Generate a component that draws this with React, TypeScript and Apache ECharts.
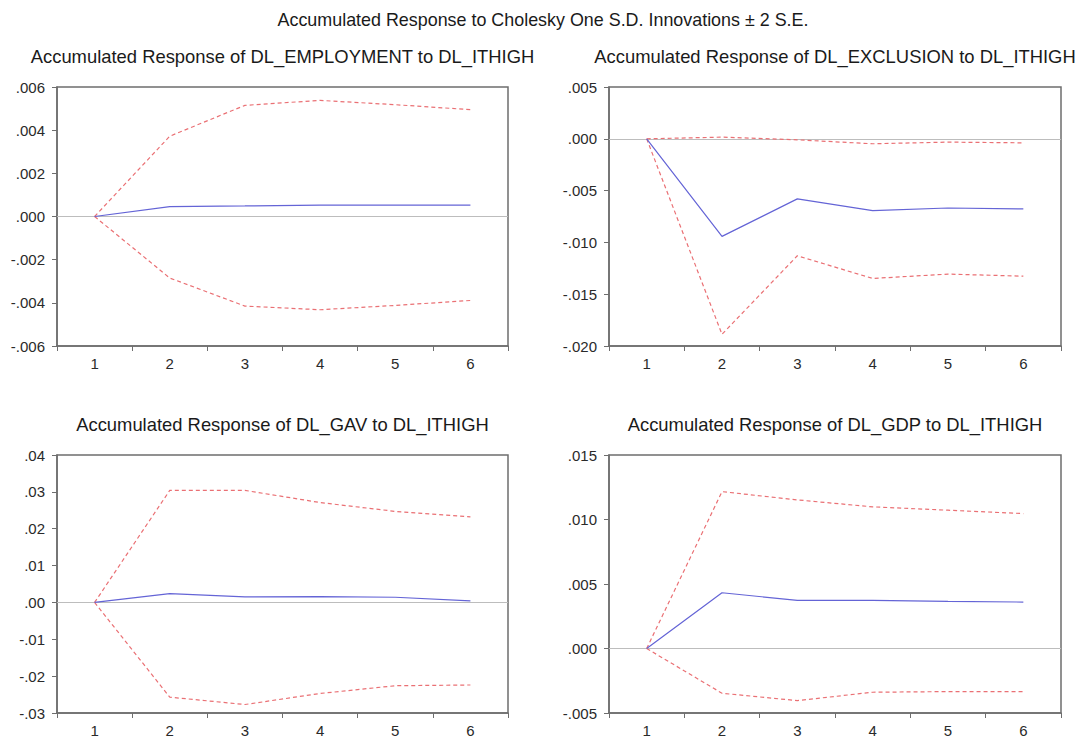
import React, { useEffect, useRef } from "react";
import * as echarts from "echarts";

const periods = ["1", "2", "3", "4", "5", "6"];

const mainTitle = "Accumulated Response to Cholesky One S.D. Innovations ± 2 S.E.";
const panelTitles = [
  "Accumulated Response of DL_EMPLOYMENT to DL_ITHIGH",
  "Accumulated Response of DL_EXCLUSION to DL_ITHIGH",
  "Accumulated Response of DL_GAV to DL_ITHIGH",
  "Accumulated Response of DL_GDP to DL_ITHIGH",
];

// DL_EMPLOYMENT
const empResp = [0, 0.00046, 0.00049, 0.00053, 0.00053, 0.00053];
const empUpper = [0, 0.00372, 0.00515, 0.00538, 0.00518, 0.00495];
const empLower = [0, -0.00285, -0.00415, -0.00432, -0.00412, -0.00389];

// DL_EXCLUSION
const excResp = [0, -0.00942, -0.0058, -0.00694, -0.00668, -0.00677];
const excUpper = [0, 0.00016, -0.0001, -0.00048, -0.00032, -0.00039];
const excLower = [0, -0.01887, -0.01129, -0.01348, -0.01306, -0.01326];

// DL_GAV
const gavResp = [0, 0.0024, 0.0015, 0.0016, 0.0014, 0.0004];
const gavUpper = [0, 0.0304, 0.0304, 0.0271, 0.0247, 0.0232];
const gavLower = [0, -0.0257, -0.0277, -0.0247, -0.0226, -0.0224];

// DL_GDP
const gdpResp = [0, 0.00432, 0.00373, 0.00373, 0.00365, 0.0036];
const gdpUpper = [0, 0.01216, 0.01152, 0.01098, 0.01072, 0.01046];
const gdpLower = [0, -0.00347, -0.00404, -0.00339, -0.00334, -0.00334];

// y-axis ranges: [min, max, interval, decimals]
const yEmp = [-0.006, 0.006, 0.002, 3];
const yExc = [-0.02, 0.005, 0.005, 3];
const yGav = [-0.03, 0.04, 0.01, 2];
const yGdp = [-0.005, 0.015, 0.005, 3];

const panels = [
  { resp: empResp, upper: empUpper, lower: empLower, y: yEmp },
  { resp: excResp, upper: excUpper, lower: excLower, y: yExc },
  { resp: gavResp, upper: gavUpper, lower: gavLower, y: yGav },
  { resp: gdpResp, upper: gdpUpper, lower: gdpLower, y: yGdp },
];

const grids = [
  { left: 57, top: 87, width: 451, height: 259 },
  { left: 609, top: 87, width: 452, height: 259 },
  { left: 57, top: 455, width: 451, height: 258 },
  { left: 609, top: 455, width: 452, height: 258 },
];

const FONT = "'Liberation Sans', Arial, sans-serif";
const AXIS_COLOR = "#6e6e6e";
const BLUE = "#6464d6";
const RED = "#ea7074";

function fmt(v: number, d: number) {
  const s = Math.abs(v).toFixed(d).replace(/^0/, "");
  return (v < -1e-12 ? "-" : "") + s;
}

export default function App() {
  const ref = useRef<HTMLDivElement>(null);
  useEffect(() => {
    if (!ref.current) return;
    const chart = echarts.init(ref.current, null, { renderer: "svg" });
    const xAxis: any[] = [];
    const yAxis: any[] = [];
    const series: any[] = [];
    panels.forEach((p, i) => {
      xAxis.push({
        type: "category",
        gridIndex: i,
        data: periods,
        boundaryGap: true,
        axisLine: { onZero: false, lineStyle: { color: AXIS_COLOR, width: 1.5 } },
        axisTick: { show: true, length: 5, inside: false, lineStyle: { color: AXIS_COLOR } },
        axisLabel: { color: "#2a2a2a", fontSize: 15, fontFamily: FONT, margin: 10 },
        splitLine: { show: false },
      });
      const [mn, mx, iv, d] = p.y as number[];
      yAxis.push({
        type: "value",
        gridIndex: i,
        min: mn,
        max: mx,
        interval: iv,
        axisLine: { show: true, onZero: false, lineStyle: { color: AXIS_COLOR, width: 1.5 } },
        axisTick: { show: true, length: 5, lineStyle: { color: AXIS_COLOR } },
        axisLabel: {
          color: "#2a2a2a",
          fontSize: 15,
          fontFamily: FONT,
          margin: 12,
          formatter: (v: number) => fmt(v, d),
        },
        splitLine: { show: false },
      });
      series.push({
        type: "line",
        xAxisIndex: i,
        yAxisIndex: i,
        data: p.resp,
        showSymbol: false,
        lineStyle: { color: BLUE, width: 1.2 },
        z: 3,
        markLine: {
          silent: true,
          symbol: "none",
          label: { show: false },
          lineStyle: { color: "#bdbdbd", type: "solid", width: 1.2 },
          data: [{ yAxis: 0 }],
          z: 1,
        },
      });
      series.push({
        type: "line",
        xAxisIndex: i,
        yAxisIndex: i,
        data: p.upper,
        showSymbol: false,
        lineStyle: { color: RED, width: 1.2, type: [4, 3] },
        z: 2,
      });
      series.push({
        type: "line",
        xAxisIndex: i,
        yAxisIndex: i,
        data: p.lower,
        showSymbol: false,
        lineStyle: { color: RED, width: 1.2, type: [4, 3] },
        z: 2,
      });
    });

    const graphic: any[] = [
      {
        type: "text",
        x: 543,
        y: 20,
        style: {
          text: mainTitle,
          fill: "#1a1a1a",
          font: `17.9px ${FONT}`,
          textAlign: "center",
          textVerticalAlign: "middle",
        },
      },
    ];
    panelTitles.forEach((t, i) => {
      const g = grids[i];
      graphic.push({
        type: "text",
        x: g.left + g.width / 2,
        y: g.top - 31,
        style: {
          text: t,
          fill: "#1a1a1a",
          font: `18.4px ${FONT}`,
          textAlign: "center",
          textVerticalAlign: "middle",
        },
      });
    });

    chart.setOption({
      animation: false,
      backgroundColor: "#ffffff",
      grid: grids.map((g) => ({
        ...g,
        show: true,
        borderColor: AXIS_COLOR,
        borderWidth: 1.5,
        backgroundColor: "transparent",
        containLabel: false,
      })),
      xAxis,
      yAxis,
      series,
      graphic,
    });
    return () => chart.dispose();
  }, []);
  return (
    <div
      ref={ref}
      style={{ position: "absolute", left: 0, top: 0, width: 1087, height: 742 }}
    />
  );
}
